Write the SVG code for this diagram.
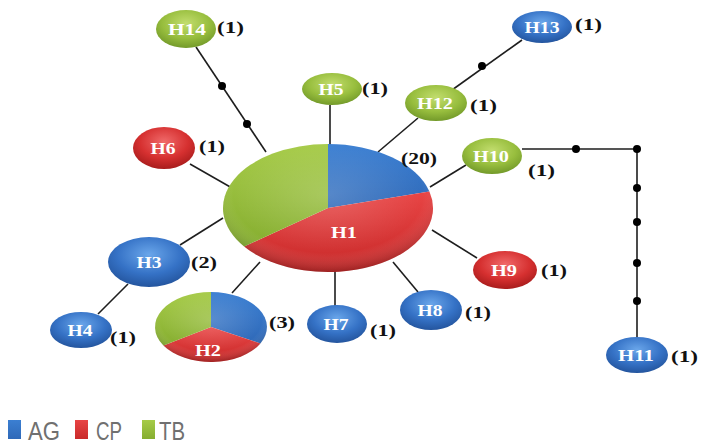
<svg xmlns="http://www.w3.org/2000/svg" width="702" height="448" viewBox="0 0 702 448">
<defs>
<radialGradient id="gB" cx="50%" cy="35%" r="65%"><stop offset="0" stop-color="#6aa6ea"/><stop offset="0.6" stop-color="#3572c6"/><stop offset="1" stop-color="#24559e"/></radialGradient>
<radialGradient id="gR" cx="50%" cy="35%" r="65%"><stop offset="0" stop-color="#f06a6a"/><stop offset="0.6" stop-color="#d63030"/><stop offset="1" stop-color="#a81c1c"/></radialGradient>
<radialGradient id="gG" cx="50%" cy="35%" r="65%"><stop offset="0" stop-color="#c2dd6e"/><stop offset="0.6" stop-color="#98be3e"/><stop offset="1" stop-color="#739a2a"/></radialGradient>
<radialGradient id="shade" cx="50%" cy="40%" r="60%"><stop offset="0" stop-color="#fff" stop-opacity="0.18"/><stop offset="0.75" stop-color="#fff" stop-opacity="0"/><stop offset="1" stop-color="#000" stop-opacity="0.22"/></radialGradient>
<linearGradient id="lB" x1="0" y1="0" x2="0" y2="1"><stop offset="0" stop-color="#3b7fd2"/><stop offset="1" stop-color="#2f69b8"/></linearGradient>
<linearGradient id="lR" x1="0" y1="0" x2="0" y2="1"><stop offset="0" stop-color="#e84444"/><stop offset="1" stop-color="#c92a2a"/></linearGradient>
<linearGradient id="lG" x1="0" y1="0" x2="0" y2="1"><stop offset="0" stop-color="#a6cb48"/><stop offset="1" stop-color="#86ae30"/></linearGradient>
</defs>
<style>
.ln{stroke:#1e1e1e;stroke-width:1.6;fill:none}
.dot{fill:#000}
.nb{fill:url(#gB)}
.nr{fill:url(#gR)}
.ng{fill:url(#gG)}
.lab{font-family:"Liberation Serif","Times New Roman",serif;font-weight:bold;font-size:17px;fill:#fff;text-anchor:middle}
.cnt{font-family:"Liberation Serif","Times New Roman",serif;font-weight:bold;font-size:17px;fill:#111}
.leg{font-family:"Liberation Sans",Arial,sans-serif;font-size:25px;fill:#707070}
</style>
<rect width="702" height="448" fill="#fff"/>
<g id="connectors">
<line class="ln" x1="196" y1="47" x2="266" y2="152"/>
<line class="ln" x1="330" y1="105" x2="330" y2="146"/>
<line class="ln" x1="418" y1="118" x2="378" y2="152"/>
<line class="ln" x1="452" y1="90" x2="522" y2="40"/>
<line class="ln" x1="466" y1="165" x2="430" y2="187"/>
<polyline class="ln" points="522,149 637,149 637,337"/>
<line class="ln" x1="190" y1="164" x2="232" y2="188"/>
<line class="ln" x1="180" y1="245" x2="223" y2="218"/>
<line class="ln" x1="128" y1="284" x2="98" y2="314"/>
<line class="ln" x1="232" y1="293" x2="260" y2="262"/>
<line class="ln" x1="335" y1="270" x2="335" y2="306"/>
<line class="ln" x1="393" y1="262" x2="418" y2="292"/>
<line class="ln" x1="432" y1="230" x2="477" y2="258"/>
<circle class="dot" cx="222" cy="86" r="4"/>
<circle class="dot" cx="247" cy="124" r="4"/>
<circle class="dot" cx="482" cy="66" r="4"/>
<circle class="dot" cx="576" cy="149" r="4"/>
<circle class="dot" cx="637" cy="149" r="4"/>
<circle class="dot" cx="637" cy="188" r="4"/>
<circle class="dot" cx="637" cy="222" r="4"/>
<circle class="dot" cx="637" cy="263" r="4"/>
<circle class="dot" cx="637" cy="301" r="4"/>
</g>
<g id="H1">
<path d="M328,208 L328,144 A105,64 0 0 1 429.4,191.4 Z" fill="url(#lB)"/>
<path d="M328,208 L429.4,191.4 A105,64 0 0 1 244.1,246.5 Z" fill="url(#lR)"/>
<path d="M328,208 L244.1,246.5 A105,64 0 0 1 328,144 Z" fill="url(#lG)"/>
<ellipse cx="328" cy="208" rx="105" ry="64" fill="url(#shade)"/>
<text class="lab" x="344" y="238" textLength="26" lengthAdjust="spacingAndGlyphs">H1</text>
<text class="cnt" x="401" y="164" textLength="36" lengthAdjust="spacingAndGlyphs">(20)</text>
</g>
<g id="H2">
<path d="M211,327 L211,292 A56,35 0 0 1 260.4,343.4 Z" fill="url(#lB)"/>
<path d="M211,327 L260.4,343.4 A56,35 0 0 1 163.5,345.5 Z" fill="url(#lR)"/>
<path d="M211,327 L163.5,345.5 A56,35 0 0 1 211,292 Z" fill="url(#lG)"/>
<ellipse cx="211" cy="327" rx="56" ry="35" fill="url(#shade)"/>
<text class="lab" x="208" y="356" textLength="26" lengthAdjust="spacingAndGlyphs">H2</text>
<text class="cnt" x="269" y="328" textLength="26" lengthAdjust="spacingAndGlyphs">(3)</text>
</g>
<g id="H3">
<ellipse class="nb" cx="149" cy="262" rx="41" ry="25"/>
<text class="lab" x="149" y="268" textLength="25" lengthAdjust="spacingAndGlyphs">H3</text>
<text class="cnt" x="191" y="268" textLength="26" lengthAdjust="spacingAndGlyphs">(2)</text>
</g>
<g id="H4">
<ellipse class="nb" cx="81" cy="330" rx="31" ry="18"/>
<text class="lab" x="80" y="336" textLength="25" lengthAdjust="spacingAndGlyphs">H4</text>
<text class="cnt" x="110" y="343" textLength="26" lengthAdjust="spacingAndGlyphs">(1)</text>
</g>
<g id="H5">
<ellipse class="ng" cx="332" cy="89" rx="30" ry="16"/>
<text class="lab" x="331" y="95" textLength="25" lengthAdjust="spacingAndGlyphs">H5</text>
<text class="cnt" x="362" y="94" textLength="26" lengthAdjust="spacingAndGlyphs">(1)</text>
</g>
<g id="H6">
<ellipse class="nr" cx="164" cy="148" rx="31" ry="21"/>
<text class="lab" x="163" y="154" textLength="25" lengthAdjust="spacingAndGlyphs">H6</text>
<text class="cnt" x="199" y="152" textLength="26" lengthAdjust="spacingAndGlyphs">(1)</text>
</g>
<g id="H7">
<ellipse class="nb" cx="337" cy="324" rx="30" ry="19"/>
<text class="lab" x="336" y="330" textLength="25" lengthAdjust="spacingAndGlyphs">H7</text>
<text class="cnt" x="370" y="336" textLength="26" lengthAdjust="spacingAndGlyphs">(1)</text>
</g>
<g id="H8">
<ellipse class="nb" cx="431" cy="310" rx="31" ry="20"/>
<text class="lab" x="430" y="316" textLength="25" lengthAdjust="spacingAndGlyphs">H8</text>
<text class="cnt" x="465" y="318" textLength="26" lengthAdjust="spacingAndGlyphs">(1)</text>
</g>
<g id="H9">
<ellipse class="nr" cx="505" cy="270" rx="32" ry="19"/>
<text class="lab" x="504" y="276" textLength="26" lengthAdjust="spacingAndGlyphs">H9</text>
<text class="cnt" x="541" y="276" textLength="26" lengthAdjust="spacingAndGlyphs">(1)</text>
</g>
<g id="H10">
<ellipse class="ng" cx="492" cy="156" rx="30" ry="18"/>
<text class="lab" x="491" y="162" textLength="36" lengthAdjust="spacingAndGlyphs">H10</text>
<text class="cnt" x="528" y="176" textLength="27" lengthAdjust="spacingAndGlyphs">(1)</text>
</g>
<g id="H11">
<ellipse class="nb" cx="637" cy="355" rx="31" ry="18"/>
<text class="lab" x="636" y="361" textLength="36" lengthAdjust="spacingAndGlyphs">H11</text>
<text class="cnt" x="671" y="362" textLength="27" lengthAdjust="spacingAndGlyphs">(1)</text>
</g>
<g id="H12">
<ellipse class="ng" cx="436" cy="103" rx="31" ry="18"/>
<text class="lab" x="435" y="109" textLength="36" lengthAdjust="spacingAndGlyphs">H12</text>
<text class="cnt" x="470" y="111" textLength="27" lengthAdjust="spacingAndGlyphs">(1)</text>
</g>
<g id="H13">
<ellipse class="nb" cx="542" cy="27" rx="30" ry="16"/>
<text class="lab" x="542" y="33" textLength="35" lengthAdjust="spacingAndGlyphs">H13</text>
<text class="cnt" x="575" y="30" textLength="27" lengthAdjust="spacingAndGlyphs">(1)</text>
</g>
<g id="H14">
<ellipse class="ng" cx="186" cy="29" rx="30" ry="19"/>
<text class="lab" x="187" y="35" textLength="38" lengthAdjust="spacingAndGlyphs">H14</text>
<text class="cnt" x="217" y="33" textLength="27" lengthAdjust="spacingAndGlyphs">(1)</text>
</g>
<g id="legend">
<rect x="8" y="420" width="13" height="19" fill="url(#lB)"/>
<text class="leg" x="28" y="440" textLength="32" lengthAdjust="spacingAndGlyphs">AG</text>
<rect x="75" y="420" width="13" height="19" fill="url(#lR)"/>
<text class="leg" x="96" y="440" textLength="26" lengthAdjust="spacingAndGlyphs">CP</text>
<rect x="142" y="420" width="13" height="19" fill="url(#lG)"/>
<text class="leg" x="159" y="440" textLength="26" lengthAdjust="spacingAndGlyphs">TB</text>
</g>
</svg>
